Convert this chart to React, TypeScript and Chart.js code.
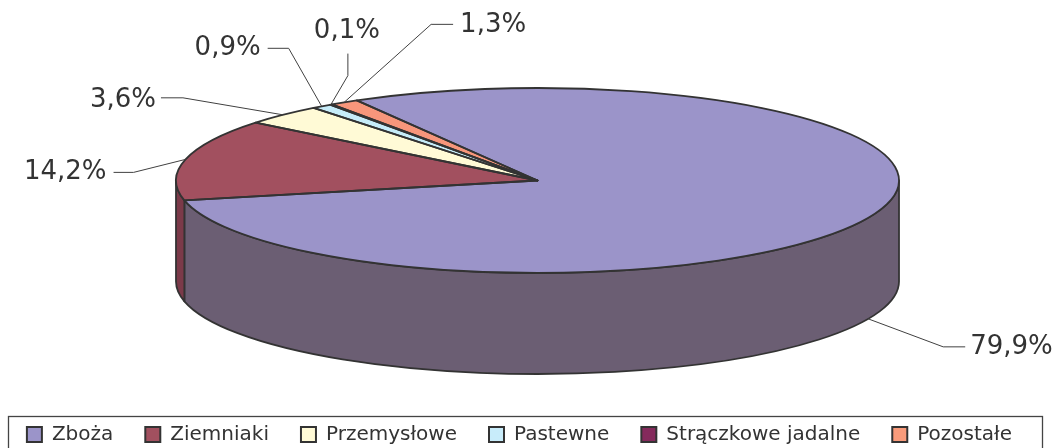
import React, { useEffect, useRef } from 'react';
import { Chart, registerables } from 'chart.js';

Chart.register(...registerables);

// ---- data ----
const categories = ['Zboża', 'Ziemniaki', 'Przemysłowe', 'Pastewne', 'Strączkowe jadalne', 'Pozostałe'];
const shares = [79.9, 14.2, 3.6, 0.9, 0.1, 1.3];

// ---- styles ----
const topColors = ['#9b94c9', '#a2505f', '#fffad6', '#c6ecf9', '#7f2a5a', '#f7967b'];
const sideColors = ['#6b5e73', '#7b3a49', '#bdb99e', '#8eaab4', '#5a1e40', '#b56d5a'];
const legendColors = ['#9b94c9', '#a2505f', '#fffad6', '#c8ecfa', '#852a5c', '#f99b7b'];
const TEXT = '#333333';
const LINE = '#333333';
const FONT = '"DejaVu Sans", Verdana, sans-serif';

// ---- layout (projection of the pie onto the page) ----
const GEOM = { cx: 537.5, cy: 180.5, rx: 361.5, ry: 92.5, depth: 101 };

// leader-line layout for each label, relative to the slice anchor
type LabelLayout = { elbow: [number, number]; tail: [number, number]; align: CanvasTextAlign; text: [number, number] };
const labelLayout: LabelLayout[] = [
  { elbow: [75, 28], tail: [22, 0], align: 'left', text: [5, 0] },
  { elbow: [-52, 13], tail: [-20, 0], align: 'right', text: [-7, 0] },
  { elbow: [-100, -17], tail: [-22, 0], align: 'right', text: [-5, 2] },
  { elbow: [-33, -58], tail: [-21, 0], align: 'right', text: [-7, 0] },
  { elbow: [17, -29], tail: [0, -22], align: 'center', text: [-1, -22] },
  { elbow: [87, -78], tail: [22, 0], align: 'left', text: [7, 1] },
];

const fmt = (v: number) => v.toFixed(1).replace('.', ',') + '%';

const pie3d = {
  id: 'pie3d',
  beforeDatasetsDraw(chart: any) {
    const ctx: CanvasRenderingContext2D = chart.ctx;
    const meta = chart.getDatasetMeta(0);
    const { cx, cy, rx, ry, depth } = GEOM;
    ctx.save();
    ctx.lineWidth = 1.8;
    ctx.strokeStyle = LINE;
    ctx.lineJoin = 'round';
    meta.data.forEach((arc: any, i: number) => {
      const s = arc.startAngle;
      const e = arc.endAngle;
      for (let k = -1; k <= 1; k++) {
        const lo = Math.max(s, 2 * Math.PI * k);
        const hi = Math.min(e, 2 * Math.PI * k + Math.PI);
        if (hi > lo) {
          ctx.beginPath();
          ctx.ellipse(cx, cy, rx, ry, 0, lo, hi, false);
          ctx.lineTo(cx + rx * Math.cos(hi), cy + ry * Math.sin(hi) + depth);
          ctx.ellipse(cx, cy + depth, rx, ry, 0, hi, lo, true);
          ctx.closePath();
          ctx.fillStyle = sideColors[i];
          ctx.fill();
          ctx.stroke();
        }
      }
    });
    ctx.restore();
    const a0 = meta.data[0];
    const R = a0.outerRadius;
    ctx.save();
    ctx.translate(cx, cy);
    ctx.scale(rx / R, ry / R);
    ctx.translate(-a0.x, -a0.y);
  },
  afterDatasetsDraw(chart: any) {
    const ctx: CanvasRenderingContext2D = chart.ctx;
    ctx.restore();
    const meta = chart.getDatasetMeta(0);
    const { cx, cy, rx, ry, depth } = GEOM;
    ctx.save();
    ctx.lineWidth = 1.8;
    ctx.strokeStyle = LINE;
    ctx.lineJoin = 'round';
    meta.data.forEach((arc: any) => {
      ctx.beginPath();
      ctx.moveTo(cx, cy);
      ctx.ellipse(cx, cy, rx, ry, 0, arc.startAngle, arc.endAngle, false);
      ctx.closePath();
      ctx.stroke();
    });
    // labels with leader lines
    ctx.lineWidth = 1;
    ctx.strokeStyle = '#404040';
    ctx.fillStyle = TEXT;
    ctx.font = `26px ${FONT}`;
    ctx.textBaseline = 'middle';
    meta.data.forEach((arc: any, i: number) => {
      const m = (arc.startAngle + arc.endAngle) / 2;
      const front = Math.sin(m) > 0.2;
      const ax = cx + rx * Math.cos(m);
      const ay = cy + ry * Math.sin(m) + (front ? depth : 0);
      const L = labelLayout[i];
      const ex = ax + L.elbow[0];
      const ey = ay + L.elbow[1];
      const tx = ex + L.tail[0];
      const ty = ey + L.tail[1];
      ctx.beginPath();
      ctx.moveTo(ax, ay);
      ctx.lineTo(ex, ey);
      ctx.lineTo(tx, ty);
      ctx.stroke();
      ctx.textAlign = L.align;
      ctx.fillText(fmt(shares[i]), tx + L.text[0], ty + L.text[1]);
    });
    ctx.restore();
  },
};

const legendFrame = {
  id: 'legendFrame',
  afterDraw(chart: any) {
    const ctx: CanvasRenderingContext2D = chart.ctx;
    ctx.save();
    ctx.strokeStyle = '#444444';
    ctx.lineWidth = 1.3;
    ctx.strokeRect(8.5, 416.5, 1034, 60);
    ctx.restore();
  },
};

export default function App() {
  const ref = useRef<HTMLCanvasElement | null>(null);
  useEffect(() => {
    if (!ref.current) return;
    const chart = new Chart(ref.current, {
      type: 'pie',
      data: {
        labels: categories,
        datasets: [
          {
            data: shares,
            backgroundColor: topColors,
            borderWidth: 0,
            clip: false as any,
          } as any,
        ],
      },
      options: {
        responsive: false,
        animation: false,
        devicePixelRatio: 1,
        rotation: -30,
        events: [],
        layout: { padding: { left: -10, right: 10, top: 0, bottom: -6.5 } },
        plugins: {
          tooltip: { enabled: false },
          legend: {
            position: 'bottom',
            labels: {
              boxWidth: 15,
              boxHeight: 15,
              padding: 32,
              color: TEXT,
              font: { family: FONT, size: 20 },
              generateLabels: () =>
                categories.map((t, i) => ({
                  text: t,
                  fillStyle: legendColors[i],
                  strokeStyle: '#333333',
                  lineWidth: 2,
                  hidden: false,
                  index: i,
                  datasetIndex: 0,
                  fontColor: TEXT,
                })),
            },
          },
        },
      } as any,
      plugins: [pie3d, legendFrame],
    });
    return () => chart.destroy();
  }, []);
  return (
    <div style={{ position: 'fixed', left: 0, top: 0, width: 1059, height: 448, background: '#ffffff' }}>
      <canvas ref={ref} width={1059} height={448} style={{ display: 'block' }} />
    </div>
  );
}
